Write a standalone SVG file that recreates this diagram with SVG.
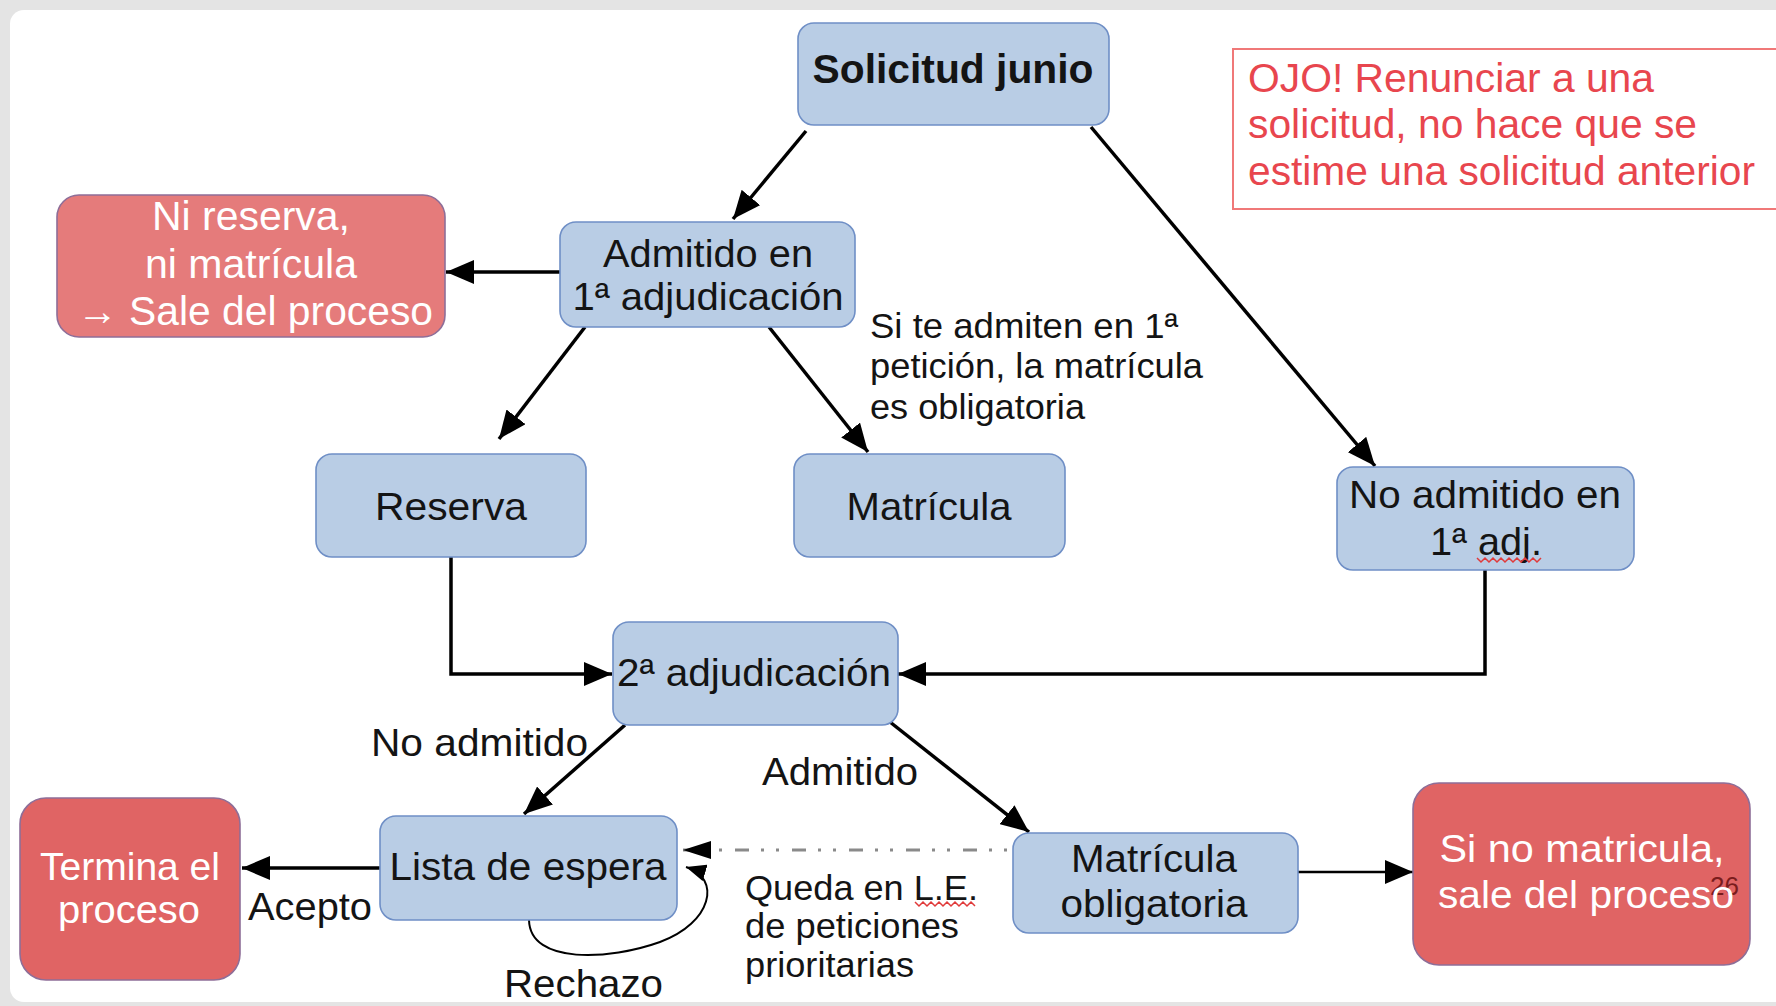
<svg xmlns="http://www.w3.org/2000/svg" width="1776" height="1006" viewBox="0 0 1776 1006">
<defs>
<marker id="ah" markerUnits="userSpaceOnUse" markerWidth="28" markerHeight="24" refX="28" refY="12" orient="auto"><path d="M0,0 L28,12 L0,24 z" fill="#000"/></marker>
<marker id="ahs" markerUnits="userSpaceOnUse" markerWidth="28" markerHeight="18" refX="28" refY="9" orient="auto"><path d="M0,0 L28,9 L0,18 z" fill="#000"/></marker>
<marker id="ahc" markerUnits="userSpaceOnUse" markerWidth="20" markerHeight="17" refX="20" refY="8.5" orient="auto"><path d="M0,0 L20,8.5 L0,17 z" fill="#000"/></marker>
</defs>
<style>
.b{fill:#b9cde5;stroke:#6f8fc6;stroke-width:1.6}
.r{fill:#e06464;stroke:#8e6e98;stroke-width:1.6}
.t{font-family:"Liberation Sans",Arial,sans-serif;font-size:39px;fill:#141414}
.m{text-anchor:middle}
.w{fill:#ffffff}
.s{font-size:35px}
.c{stroke:#000;stroke-width:3.5;fill:none;marker-end:url(#ah)}
.q{stroke:#e03a3a;stroke-width:1.5;fill:none}
</style>
<rect x="0" y="0" width="1776" height="1006" fill="#e4e4e4"/>
<rect x="10" y="10" width="1800" height="992" rx="14" fill="#ffffff"/>

<g id="connectors">
<line class="c" x1="806" y1="131" x2="733" y2="219"/>
<line class="c" x1="1091" y1="127" x2="1375" y2="466"/>
<line class="c" x1="560" y1="272" x2="446" y2="272"/>
<line class="c" x1="585" y1="327" x2="499" y2="439"/>
<line class="c" x1="769" y1="327" x2="868" y2="452"/>
<polyline class="c" points="451,557 451,674 612,674"/>
<polyline class="c" points="1485,570 1485,674 898,674"/>
<line class="c" x1="625" y1="725" x2="524" y2="814"/>
<line class="c" x1="890" y1="722" x2="1029" y2="832"/>
<line class="c" x1="380" y1="868" x2="242" y2="868"/>
<line class="c" style="stroke-width:2.5" x1="1297" y1="872" x2="1413" y2="872"/>
<line x1="1007" y1="850" x2="683" y2="850" stroke="#8a8a8a" stroke-width="3" stroke-dasharray="3 12 3 12 14 13" marker-end="url(#ahs)"/>
<path d="M529 920 C530 965 610 960 660 942 C712 923 722 878 686 867" stroke="#000" stroke-width="2" fill="none" marker-end="url(#ahc)"/>
</g>

<g id="n-solicitud">
<rect class="b" x="798" y="23" width="311" height="102" rx="16"/>
<text class="t m" x="953" y="83" style="font-weight:bold;font-size:40px" textLength="281" lengthAdjust="spacingAndGlyphs">Solicitud junio</text>
</g>

<g id="n-ojo">
<rect x="1233" y="49" width="560" height="160" fill="#ffffff" stroke="#f07878" stroke-width="2"/>
<text class="t" style="fill:#e8464e;font-size:40px" x="1248" y="92" textLength="406" lengthAdjust="spacingAndGlyphs">OJO! Renunciar a una</text>
<text class="t" style="fill:#e8464e;font-size:40px" x="1248" y="138" textLength="449" lengthAdjust="spacingAndGlyphs">solicitud, no hace que se</text>
<text class="t" style="fill:#e8464e;font-size:40px" x="1248" y="185" textLength="507" lengthAdjust="spacingAndGlyphs">estime una solicitud anterior</text>
</g>

<g id="n-admitido">
<rect class="b" x="560" y="222" width="295" height="105" rx="16"/>
<text class="t m" x="708" y="267" textLength="210" lengthAdjust="spacingAndGlyphs">Admitido en</text>
<text class="t m" x="708" y="310" textLength="271" lengthAdjust="spacingAndGlyphs">1ª adjudicación</text>
</g>

<g id="n-nireserva">
<rect class="r" style="fill:#e57b7b" x="57" y="195" width="388" height="142" rx="22"/>
<text class="t m w" x="251" y="230" style="font-size:40px" textLength="198" lengthAdjust="spacingAndGlyphs">Ni reserva,</text>
<text class="t m w" x="251" y="278" style="font-size:40px" textLength="212" lengthAdjust="spacingAndGlyphs">ni matrícula</text>
<text class="t m w" x="255" y="325" style="font-size:40px" textLength="356" lengthAdjust="spacingAndGlyphs">→ Sale del proceso</text>
</g>

<g id="n-reserva">
<rect class="b" x="316" y="454" width="270" height="103" rx="16"/>
<text class="t m" x="451" y="520" textLength="152" lengthAdjust="spacingAndGlyphs">Reserva</text>
</g>

<g id="n-matricula">
<rect class="b" x="794" y="454" width="271" height="103" rx="16"/>
<text class="t m" x="929" y="520" textLength="165" lengthAdjust="spacingAndGlyphs">Matrícula</text>
</g>

<g id="n-noadmitido">
<rect class="b" x="1337" y="467" width="297" height="103" rx="16"/>
<text class="t m" x="1485" y="508" textLength="272" lengthAdjust="spacingAndGlyphs">No admitido en</text>
<text class="t m" x="1486" y="555" textLength="112" lengthAdjust="spacingAndGlyphs">1ª adj.</text>
<path class="q" d="M1477 558 l4 4 l4 -4 l4 4 l4 -4 l4 4 l4 -4 l4 4 l4 -4 l4 4 l4 -4 l4 4 l4 -4 l4 4 l4 -4 l4 4 l4 -4"/>
</g>

<g id="n-segunda">
<rect class="b" x="613" y="622" width="285" height="103" rx="16"/>
<text class="t m" x="754" y="686" textLength="274" lengthAdjust="spacingAndGlyphs">2ª adjudicación</text>
</g>

<g id="n-lista">
<rect class="b" x="380" y="816" width="297" height="104" rx="16"/>
<text class="t m" x="528" y="880" textLength="277" lengthAdjust="spacingAndGlyphs">Lista de espera</text>
</g>

<g id="n-termina">
<rect class="r" x="20" y="798" width="220" height="182" rx="26"/>
<text class="t m w" x="130" y="880" textLength="180" lengthAdjust="spacingAndGlyphs">Termina el</text>
<text class="t m w" x="129" y="923" textLength="142" lengthAdjust="spacingAndGlyphs">proceso</text>
</g>

<g id="n-matobligatoria">
<rect class="b" x="1013" y="833" width="285" height="100" rx="16"/>
<text class="t m" x="1154" y="872" textLength="166" lengthAdjust="spacingAndGlyphs">Matrícula</text>
<text class="t m" x="1154" y="917" textLength="187" lengthAdjust="spacingAndGlyphs">obligatoria</text>
</g>

<g id="n-sinomatricula">
<rect class="r" x="1413" y="783" width="337" height="182" rx="26"/>
<text class="t" x="1710" y="895" style="font-size:26px;fill:#7a1c1c">26</text>
<text class="t m w" x="1582" y="862" textLength="285" lengthAdjust="spacingAndGlyphs">Si no matricula,</text>
<text class="t m w" x="1586" y="908" textLength="296" lengthAdjust="spacingAndGlyphs">sale del proceso</text>
</g>

<g id="labels">
<text class="t s" x="870" y="338" textLength="308" lengthAdjust="spacingAndGlyphs">Si te admiten en 1ª</text>
<text class="t s" x="870" y="378" textLength="333" lengthAdjust="spacingAndGlyphs">petición, la matrícula</text>
<text class="t s" x="870" y="419" textLength="215" lengthAdjust="spacingAndGlyphs">es obligatoria</text>
<text class="t" x="371" y="756" textLength="217" lengthAdjust="spacingAndGlyphs">No admitido</text>
<text class="t" x="762" y="785" textLength="156" lengthAdjust="spacingAndGlyphs">Admitido</text>
<text class="t" x="248" y="920" textLength="124" lengthAdjust="spacingAndGlyphs">Acepto</text>
<text class="t" x="504" y="997" textLength="159" lengthAdjust="spacingAndGlyphs">Rechazo</text>
<text class="t s" x="745" y="900" textLength="233" lengthAdjust="spacingAndGlyphs">Queda en L.E.</text>
<path class="q" d="M915 902 l4 4 l4 -4 l4 4 l4 -4 l4 4 l4 -4 l4 4 l4 -4 l4 4 l4 -4 l4 4 l4 -4 l4 4 l4 -4 l4 4"/>
<text class="t s" x="745" y="938" textLength="214" lengthAdjust="spacingAndGlyphs">de peticiones</text>
<text class="t s" x="745" y="977" textLength="169" lengthAdjust="spacingAndGlyphs">prioritarias</text>
</g>
</svg>
